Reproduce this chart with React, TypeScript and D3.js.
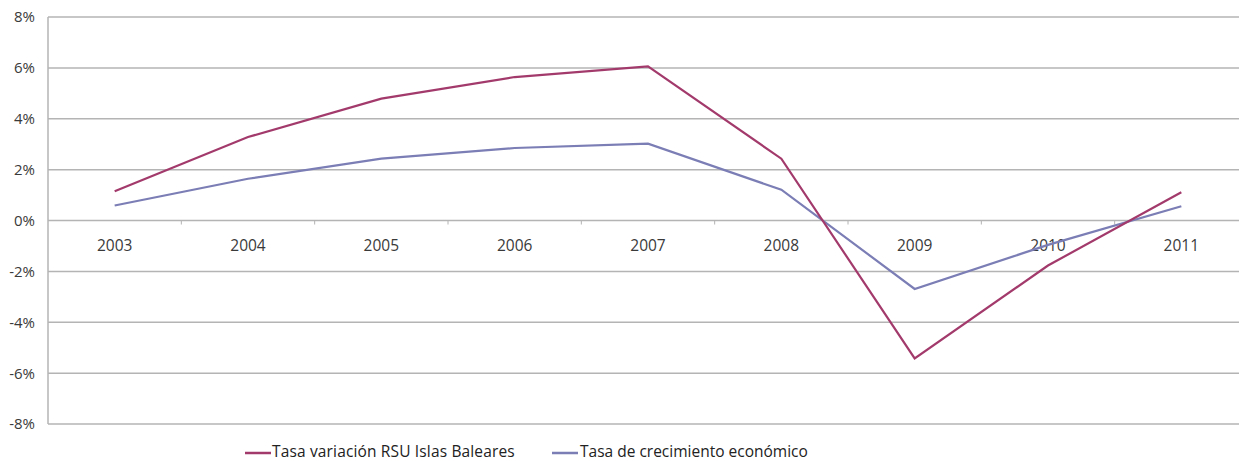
import React from "react";
import * as d3 from "d3";

const years = ["2003", "2004", "2005", "2006", "2007", "2008", "2009", "2010", "2011"];
const rsu = [1.15, 3.28, 4.79, 5.64, 6.06, 2.43, -5.42, -1.77, 1.11];
const crecimiento = [0.59, 1.64, 2.43, 2.85, 3.02, 1.21, -2.69, -0.96, 0.56];
const yTicks = [-8, -6, -4, -2, 0, 2, 4, 6, 8];
const seriesNames = ["Tasa variación RSU Islas Baleares", "Tasa de crecimiento económico"];
const colors = ["#a33a6c", "#7b7db5"];

const W = 1239;
const H = 461;
const left = 48;
const right = 1248;
const top = 17;
const bottom = 424;

export default function App() {
  const x = d3.scaleBand<string>().domain(years).range([left, right]);
  const y = d3.scaleLinear().domain([-8, 8]).range([bottom, top]);
  const cx = (d: string) => (x(d) as number) + x.bandwidth() / 2;
  const line = d3
    .line<number>()
    .x((_, i) => cx(years[i]))
    .y((v) => y(v));
  const font = "'Open Sans', sans-serif";
  return (
    <svg
      width={W}
      height={H}
      style={{ position: "absolute", left: 0, top: 0, background: "#fff" }}
    >
      <rect x={0} y={0} width={W} height={H} fill="#fff" />
      {yTicks.map((t) => (
        <line key={t} x1={left} x2={right} y1={y(t)} y2={y(t)} stroke="#b4b4b4" strokeWidth={1.5} />
      ))}
      <line x1={left} x2={left} y1={top} y2={bottom} stroke="#b4b4b4" strokeWidth={1.5} />
      {years.slice(1).map((yr) => (
        <line key={yr} x1={x(yr)} x2={x(yr)} y1={y(0)} y2={y(0) + 4} stroke="#b4b4b4" strokeWidth={1} />
      ))}
      {yTicks.map((t) => (
        <text key={t} x={35} y={y(t)} dy="0.36em" textAnchor="end" fontFamily={font} fontSize={15} fill="#3a3a3a">
          {t}%
        </text>
      ))}
      {years.map((yr) => (
        <text key={yr} x={cx(yr)} y={y(0) + 30} textAnchor="middle" fontFamily={font} fontSize={15.5} fill="#3a3a3a">
          {yr}
        </text>
      ))}
      <path d={line(crecimiento) || ""} fill="none" stroke={colors[1]} strokeWidth={2.2} />
      <path d={line(rsu) || ""} fill="none" stroke={colors[0]} strokeWidth={2.2} />
      <g>
        <line x1={245} x2={271} y1={453} y2={453} stroke={colors[0]} strokeWidth={2.5} />
        <text x={272} y={457} fontFamily={font} fontSize={15.5} letterSpacing={0.15} fill="#222">
          {seriesNames[0]}
        </text>
        <line x1={552} x2={578} y1={453} y2={453} stroke={colors[1]} strokeWidth={2.5} />
        <text x={580} y={457} fontFamily={font} fontSize={15.5} fill="#222">
          {seriesNames[1]}
        </text>
      </g>
    </svg>
  );
}
